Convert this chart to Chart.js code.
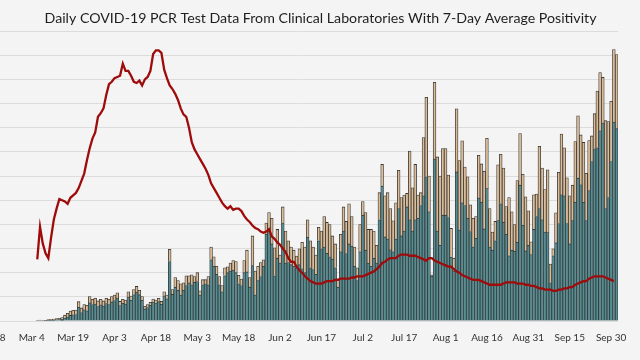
<!DOCTYPE html>
<html>
<head>
<meta charset="utf-8">
<script src="https://cdn.jsdelivr.net/npm/chart.js@4.4.1/dist/chart.umd.min.js"></script>
<style>
  html, body { margin: 0; padding: 0; background: #f4f4f4; overflow: hidden; width: 640px; height: 360px; }
  #wrap { position: absolute; left: -29px; top: 0; }
</style>
</head>
<body>
<div id="wrap"><canvas id="chart" width="681" height="360"></canvas></div>
<script>
// x axis runs Feb 18 .. Oct 2 (one category per day), data starts Mar 6
const firstDay = new Date(2020, 1, 18);
const dayCount = 228;
const firstDataLabel = 'Mar 6';
const tickLabels = ['Feb 18', 'Mar 4', 'Mar 19', 'Apr 3', 'Apr 18', 'May 3', 'May 18', 'Jun 2',
  'Jun 17', 'Jul 2', 'Jul 17', 'Aug 1', 'Aug 16', 'Aug 31', 'Sep 15', 'Sep 30'];

// daily test totals (bar height) and the teal part of each bar, Mar 6 .. Oct 2
const totalTests = [
  0.3, 0.4, 0.3, 0.2, 0.6, 0.7, 0.8, 1.0, 1.1, 1.4,
  2.4, 3.2, 4.1, 4.4, 4.5, 8.0, 5.4, 6.8, 6.5, 10.1,
  9.0, 9.4, 8.3, 9.0, 8.3, 9.4, 9.0, 10.1, 10.7, 11.7,
  8.1, 9.0, 8.7, 12.1, 10.3, 13.0, 14.3, 12.7, 10.1, 6.1,
  6.8, 7.7, 9.1, 8.7, 9.4, 8.1, 12.1, 10.7, 29.7, 13.0,
  18.0, 16.7, 15.4, 15.8, 18.7, 18.7, 19.1, 18.4, 20.0, 12.5,
  17.1, 17.1, 18.4, 30.6, 26.6, 22.6, 18.4, 14.7, 22.0, 22.4,
  24.0, 25.0, 24.6, 18.9, 17.4, 25.0, 29.3, 18.0, 35.2, 20.7,
  22.6, 24.2, 25.3, 40.5, 44.9, 42.5, 30.3, 37.9, 27.3, 47.2,
  37.2, 33.2, 30.6, 29.3, 26.9, 29.9, 32.6, 30.6, 41.9, 33.2,
  30.6, 27.3, 38.8, 37.2, 43.2, 40.8, 39.9, 35.2, 31.9, 17.5,
  35.9, 47.2, 41.2, 48.5, 43.2, 30.6, 22.0, 39.9, 49.4, 44.9,
  37.9, 37.9, 37.2, 31.3, 53.1, 64.8, 51.8, 53.1, 46.5, 41.5,
  48.9, 62.4, 51.1, 52.1, 52.8, 70.3, 55.1, 64.8, 52.1, 53.1,
  75.9, 92.6, 60.0, 19.1, 98.8, 67.9, 60.0, 71.4, 71.4, 60.4,
  38.3, 26.0, 87.8, 66.4, 74.6, 63.7, 59.7, 48.1, 42.5, 43.2,
  68.6, 65.0, 62.0, 75.6, 46.5, 36.8, 41.2, 64.6, 69.0, 63.3,
  47.4, 51.1, 45.2, 39.9, 58.1, 77.6, 60.7, 51.4, 45.6, 32.8,
  52.2, 52.5, 72.3, 63.3, 54.4, 62.6, 23.6, 29.9, 44.8, 61.5,
  77.4, 71.7, 59.3, 51.8, 56.2, 74.3, 84.9, 77.0, 73.9, 61.1,
  74.7, 76.6, 85.8, 95.2, 102.8, 100.8, 82.9, 82.5, 90.9, 112.3,
  110.3
];
const tealTests = [
  0.2, 0.2, 0.2, 0.1, 0.3, 0.4, 0.4, 0.5, 0.6, 0.7,
  1.2, 1.6, 2.3, 2.6, 2.7, 5.7, 3.5, 4.6, 4.2, 7.5,
  6.8, 7.0, 6.0, 6.7, 6.2, 7.2, 6.8, 7.9, 8.5, 9.5,
  6.4, 7.3, 7.0, 9.9, 8.6, 10.8, 12.0, 10.9, 8.6, 5.0,
  5.6, 6.5, 7.8, 7.4, 8.0, 6.9, 10.4, 9.2, 24.6, 11.0,
  14.0, 12.7, 10.7, 12.7, 14.7, 15.8, 15.0, 16.0, 16.3, 10.7,
  15.0, 15.4, 15.0, 25.3, 22.6, 19.3, 15.0, 12.1, 18.7, 20.0,
  20.7, 21.1, 20.0, 15.4, 14.7, 20.0, 20.3, 14.0, 22.9, 10.7,
  16.7, 18.4, 22.6, 35.9, 37.2, 31.9, 18.7, 26.0, 24.0, 40.5,
  24.0, 24.2, 23.3, 22.6, 22.0, 23.3, 21.6, 20.0, 34.6, 22.0,
  21.3, 19.3, 33.2, 29.9, 30.6, 28.0, 26.6, 25.6, 22.0, 14.0,
  28.6, 37.2, 27.9, 31.9, 30.9, 22.6, 16.7, 28.6, 43.8, 29.3,
  24.0, 22.6, 26.0, 24.0, 41.9, 55.8, 34.8, 33.9, 29.5, 28.6,
  33.9, 46.5, 35.2, 37.2, 47.2, 41.9, 37.2, 41.9, 42.5, 47.8,
  51.8, 59.7, 45.2, 18.5, 67.0, 37.2, 31.3, 43.8, 43.8, 42.8,
  26.4, 20.7, 61.7, 37.6, 48.9, 47.8, 42.5, 37.0, 30.6, 34.2,
  50.9, 49.1, 38.1, 54.8, 30.6, 29.3, 33.2, 41.6, 48.5, 40.9,
  35.9, 27.0, 29.3, 28.9, 32.6, 56.2, 39.6, 29.0, 31.3, 27.5,
  37.9, 43.2, 46.5, 41.9, 36.8, 36.6, 15.8, 27.0, 32.3, 40.3,
  52.2, 51.8, 40.3, 31.9, 41.6, 49.1, 59.1, 56.4, 49.1, 41.6,
  54.0, 66.0, 71.3, 71.7, 78.7, 81.9, 46.5, 51.1, 66.0, 82.3,
  79.6
];
// 7-day average positivity (%), Mar 6 .. Oct 1
const positivity = [
  5.1, 7.8, 6.4, 5.6, 5.2, 6.9, 8.4, 9.3, 10.1, 10.0,
  9.9, 9.7, 10.2, 10.4, 10.6, 11.0, 11.6, 12.2, 13.3, 14.3,
  15.1, 15.6, 16.9, 17.2, 17.6, 18.7, 19.6, 19.8, 20.1, 20.2,
  20.3, 21.3, 20.7, 20.7, 20.3, 19.8, 19.7, 19.9, 19.5, 20.0,
  20.2, 20.7, 22.1, 22.4, 22.4, 22.2, 20.8, 20.1, 19.5, 19.2,
  18.8, 18.3, 17.6, 17.1, 16.9, 16.0, 14.8, 14.2, 13.8, 13.4,
  13.0, 12.6, 12.1, 11.4, 11.0, 10.6, 10.2, 9.8, 9.5, 9.3,
  9.5, 9.2, 9.3, 9.3, 9.1, 8.7, 8.4, 8.2, 7.9, 7.7,
  7.6, 7.4, 7.3, 7.4, 7.6, 7.0, 6.8, 6.5, 6.3, 6.0,
  5.7, 5.2, 4.9, 4.9, 4.5, 4.2, 4.0, 3.7, 3.5, 3.3,
  3.2, 3.1, 3.1, 3.1, 3.2, 3.3, 3.3, 3.3, 3.4, 3.4,
  3.5, 3.5, 3.5, 3.5, 3.6, 3.6, 3.7, 3.7, 3.7, 3.8,
  3.9, 4.0, 4.1, 4.3, 4.5, 4.8, 4.9, 5.1, 5.2, 5.2,
  5.2, 5.4, 5.5, 5.5, 5.5, 5.4, 5.4, 5.4, 5.3, 5.2,
  5.1, 5.0, 5.2, 5.2, 5.0, 4.9, 4.8, 4.7, 4.6, 4.5,
  4.5, 4.3, 4.1, 4.0, 3.8, 3.7, 3.6, 3.5, 3.4, 3.4,
  3.4, 3.3, 3.2, 3.1, 3.0, 3.0, 3.0, 3.0, 3.0, 3.1,
  3.2, 3.2, 3.2, 3.2, 3.1, 3.1, 3.1, 3.0, 3.0, 2.9,
  2.9, 2.8, 2.7, 2.7, 2.6, 2.6, 2.6, 2.5, 2.5, 2.6,
  2.6, 2.7, 2.7, 2.8, 2.8, 3.0, 3.1, 3.2, 3.3, 3.3,
  3.5, 3.6, 3.7, 3.7, 3.7, 3.7, 3.6, 3.5, 3.4, 3.3
];

const monthNames = ['Jan', 'Feb', 'Mar', 'Apr', 'May', 'Jun', 'Jul', 'Aug', 'Sep', 'Oct', 'Nov', 'Dec'];
const days = [];
for (let i = 0; i < dayCount; i++) {
  const d = new Date(firstDay.getFullYear(), firstDay.getMonth(), firstDay.getDate() + i);
  days.push(monthNames[d.getMonth()] + ' ' + d.getDate());
}
const start = days.indexOf(firstDataLabel);

// pad series to full axis length
function padded(values) {
  const out = new Array(dayCount).fill(null);
  values.forEach((v, i) => { out[start + i] = v; });
  return out;
}
const tealData = padded(tealTests);
const tanData = padded(totalTests.map((t, i) => +(t - tealTests[i]).toFixed(1)));
const lineData = padded(positivity);

const font = "Lato, 'Open Sans', sans-serif";

new Chart(document.getElementById('chart'), {
  type: 'bar',
  data: {
    labels: days,
    datasets: [
      {
        type: 'line',
        label: '7-Day Average Positivity',
        data: lineData,
        yAxisID: 'y2',
        borderColor: '#9e0b0b',
        borderWidth: 2.3,
        pointRadius: 0,
        tension: 0,
        order: 0
      },
      {
        label: 'Tests A',
        data: tealData,
        backgroundColor: '#5a8d92',
        borderColor: '#2f3a3b',
        borderWidth: 0.8,
        stack: 'tests',
        order: 1
      },
      {
        label: 'Tests B',
        data: tanData,
        backgroundColor: '#d9bc9a',
        borderColor: '#3a3530',
        borderWidth: 0.8,
        stack: 'tests',
        order: 1
      }
    ]
  },
  options: {
    responsive: false,
    animation: false,
    layout: { padding: { left: 18, right: 0, top: 0, bottom: 13 } },
    datasets: { bar: { categoryPercentage: 1, barPercentage: 1 } },
    plugins: {
      legend: { display: false },
      tooltip: { enabled: false },
      title: {
        display: true,
        text: 'Daily COVID-19 PCR Test Data From Clinical Laboratories With 7-Day Average Positivity',
        color: '#1e1e1e',
        font: { family: font, size: 14.2, weight: 'normal' },
        padding: { top: 10, bottom: 4 }
      }
    },
    scales: {
      x: {
        stacked: true,
        grid: { display: false },
        border: { display: false },
        ticks: {
          autoSkip: false,
          maxRotation: 0,
          minRotation: 0,
          padding: 3,
          color: '#333',
          font: { family: font, size: 10 },
          callback: function (value) {
            const lab = this.getLabelForValue(value);
            return tickLabels.includes(lab) ? lab : '';
          }
        }
      },
      y: {
        stacked: true,
        min: 0,
        max: 120,
        ticks: { display: false, stepSize: 10 },
        grid: { color: '#dcdcdc', drawTicks: false },
        border: { display: false }
      },
      y2: {
        position: 'right',
        min: 0,
        max: 24,
        grid: { display: false },
        border: { display: false },
        ticks: { display: false },
        afterFit: function (scale) { scale.width = 34; }
      }
    }
  }
});
</script>
</body>
</html>
